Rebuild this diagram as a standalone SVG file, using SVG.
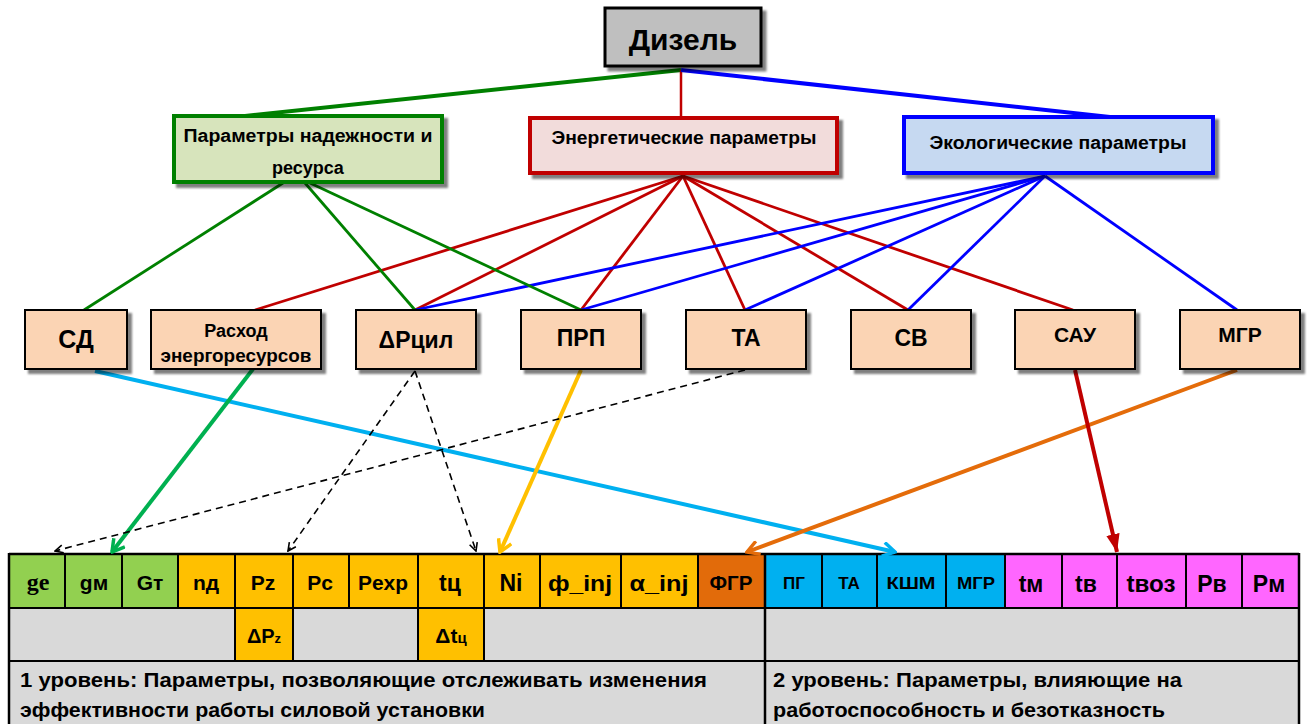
<svg xmlns="http://www.w3.org/2000/svg" width="1312" height="724" viewBox="0 0 1312 724">
<style>
.t{font-family:"Liberation Sans",Arial,sans-serif;font-weight:bold;fill:#000;text-anchor:middle}
.tl{font-family:"Liberation Sans",Arial,sans-serif;font-weight:bold;fill:#000}
.mid{fill:#FBD4B4;stroke:#000;stroke-width:2}
.cl{stroke:#000;stroke-width:2}
.g{stroke:#008000;fill:none}
.r{stroke:#C00000;fill:none}
.b{stroke:#0000FF;fill:none}
.dash{stroke:#000;stroke-width:1.6;stroke-dasharray:7 5;fill:none}
</style>
<defs>
<filter id="sh" x="-10%" y="-10%" width="130%" height="140%">
<feDropShadow dx="4" dy="4" stdDeviation="1.2" flood-color="#000" flood-opacity="0.5"/>
</filter>
<marker id="aG" viewBox="0 0 16 16" refX="14" refY="8" markerWidth="16" markerHeight="16" markerUnits="userSpaceOnUse" orient="auto"><path d="M2,1 L14,8 L2,15" fill="none" stroke="#00B050" stroke-width="3.5"/></marker>
<marker id="aC" viewBox="0 0 16 16" refX="14" refY="8" markerWidth="16" markerHeight="16" markerUnits="userSpaceOnUse" orient="auto"><path d="M2,1 L14,8 L2,15" fill="none" stroke="#00B0F0" stroke-width="3.5"/></marker>
<marker id="aY" viewBox="0 0 16 16" refX="14" refY="8" markerWidth="16" markerHeight="16" markerUnits="userSpaceOnUse" orient="auto"><path d="M2,1 L14,8 L2,15" fill="none" stroke="#FFC000" stroke-width="3.5"/></marker>
<marker id="aO" viewBox="0 0 16 16" refX="14" refY="8" markerWidth="16" markerHeight="16" markerUnits="userSpaceOnUse" orient="auto"><path d="M2,1 L14,8 L2,15" fill="none" stroke="#E46C0A" stroke-width="3.5"/></marker>
<marker id="aK" viewBox="0 0 10 10" refX="9" refY="5" markerWidth="10" markerHeight="10" markerUnits="userSpaceOnUse" orient="auto"><path d="M1,1 L9,5 L1,9" fill="none" stroke="#000" stroke-width="1.6"/></marker>
<marker id="aR" viewBox="0 0 16 12" refX="16" refY="6" markerWidth="18" markerHeight="14" markerUnits="userSpaceOnUse" orient="auto"><path d="M0,0 L16,6 L0,12 Z" fill="#C00000"/></marker>
</defs>

<g id="table">
<rect x="9" y="554" width="1290" height="180" fill="#D9D9D9"/>
<rect x="9" y="554" width="169" height="54" fill="#92D050"/>
<rect x="178" y="554" width="520" height="54" fill="#FFC000"/>
<rect x="698" y="554" width="67" height="54" fill="#E26B0A"/>
<rect x="765" y="554" width="240" height="54" fill="#00B0F0"/>
<rect x="1005" y="554" width="294" height="54" fill="#FF66FF"/>
<rect x="235" y="608" width="58" height="53" fill="#FFC000"/>
<rect x="418" y="608" width="66" height="53" fill="#FFC000"/>
<g class="cl">
<line x1="9" y1="554" x2="1299" y2="554" stroke-width="2.5"/>
<line x1="9" y1="608" x2="1299" y2="608"/>
<line x1="9" y1="661" x2="1299" y2="661"/>
<line x1="9" y1="553" x2="9" y2="724" stroke-width="2.5"/>
<line x1="1299" y1="553" x2="1299" y2="724" stroke-width="2.5"/>
<line x1="765" y1="554" x2="765" y2="724" stroke-width="2.5"/>
<line x1="65" y1="554" x2="65" y2="608"/>
<line x1="122" y1="554" x2="122" y2="608"/>
<line x1="178" y1="554" x2="178" y2="608"/>
<line x1="235" y1="554" x2="235" y2="661"/>
<line x1="293" y1="554" x2="293" y2="661"/>
<line x1="349" y1="554" x2="349" y2="608"/>
<line x1="418" y1="554" x2="418" y2="661"/>
<line x1="484" y1="554" x2="484" y2="661"/>
<line x1="540" y1="554" x2="540" y2="608"/>
<line x1="621" y1="554" x2="621" y2="608"/>
<line x1="698" y1="554" x2="698" y2="608"/>
<line x1="822" y1="554" x2="822" y2="608"/>
<line x1="877" y1="554" x2="877" y2="608"/>
<line x1="946" y1="554" x2="946" y2="608"/>
<line x1="1005" y1="554" x2="1005" y2="608"/>
<line x1="1062" y1="554" x2="1062" y2="608"/>
<line x1="1117" y1="554" x2="1117" y2="608"/>
<line x1="1186" y1="554" x2="1186" y2="608"/>
<line x1="1242" y1="554" x2="1242" y2="608"/>
</g>
<text x="38" y="590" font-family="'Liberation Serif',serif" font-weight="bold" font-size="24" text-anchor="middle">ge</text>
<g class="t" font-size="21">
<text x="94" y="590">gм</text>
<text x="150" y="590">Gт</text>
<text x="206" y="590">nд</text>
<text x="263" y="590">Pz</text>
<text x="320" y="590">Pc</text>
<text x="383" y="590" textLength="50" lengthAdjust="spacingAndGlyphs">Pexp</text>
<text x="450" y="591" font-size="23">tц</text>
<text x="511" y="591" font-size="23">Ni</text>
<text x="580" y="591" font-size="22" textLength="64" lengthAdjust="spacingAndGlyphs">ф_inj</text>
<text x="659" y="591" font-size="22" textLength="59" lengthAdjust="spacingAndGlyphs">α_inj</text>
<text x="731" y="590" textLength="43" lengthAdjust="spacingAndGlyphs">ФГР</text>
</g>
<g class="t" font-size="17">
<text x="794" y="589">ПГ</text>
<text x="849" y="589">ТА</text>
<text x="911" y="589" textLength="49" lengthAdjust="spacingAndGlyphs">КШМ</text>
<text x="976" y="589" textLength="38" lengthAdjust="spacingAndGlyphs">МГР</text>
</g>
<g class="t" font-size="23">
<text x="1031" y="592">tм</text>
<text x="1086" y="592">tв</text>
<text x="1151" y="592" textLength="49" lengthAdjust="spacingAndGlyphs">tвоз</text>
<text x="1212" y="592">Pв</text>
<text x="1269" y="592">Pм</text>
</g>
<text class="t" x="264" y="643" font-size="20">ΔP<tspan font-size="13">z</tspan></text>
<text class="t" x="451" y="643" font-size="21">Δt<tspan font-size="15">ц</tspan></text>
<g class="tl" font-size="20">
<text x="20" y="687" textLength="687" lengthAdjust="spacingAndGlyphs">1 уровень: Параметры, позволяющие отслеживать изменения</text>
<text x="20" y="717" textLength="465" lengthAdjust="spacingAndGlyphs">эффективности работы силовой установки</text>
<text x="773" y="687" textLength="409" lengthAdjust="spacingAndGlyphs">2 уровень: Параметры, влияющие на</text>
<text x="773" y="717" textLength="392" lengthAdjust="spacingAndGlyphs">работоспособность и безотказность</text>
</g>
</g>

<g id="connectors">
<line class="g" x1="681" y1="70" x2="245" y2="116" stroke-width="4"/>
<line class="r" x1="681" y1="70" x2="681" y2="118" stroke-width="2.5"/>
<line class="b" x1="681" y1="70" x2="1110" y2="117" stroke-width="4"/>
<g class="r" stroke-width="2.8">
<line x1="683" y1="176" x2="255" y2="310"/>
<line x1="683" y1="176" x2="415" y2="310"/>
<line x1="683" y1="176" x2="581" y2="310"/>
<line x1="683" y1="176" x2="745" y2="310"/>
<line x1="683" y1="176" x2="908" y2="310"/>
<line x1="683" y1="176" x2="1073" y2="310"/>
</g>
<g class="b" stroke-width="2.8">
<line x1="1045" y1="176" x2="415" y2="310"/>
<line x1="1045" y1="176" x2="581" y2="310"/>
<line x1="1045" y1="176" x2="745" y2="310"/>
<line x1="1045" y1="176" x2="908" y2="310"/>
<line x1="1045" y1="176" x2="1237" y2="310"/>
</g>
<g class="g" stroke-width="2.8">
<line x1="283" y1="183" x2="84" y2="310"/>
<line x1="305" y1="183" x2="415" y2="310"/>
<line x1="310" y1="183" x2="581" y2="310"/>
</g>
<line x1="95" y1="371" x2="895" y2="552" stroke="#00B0F0" stroke-width="4" marker-end="url(#aC)"/>
<line x1="253" y1="369" x2="112" y2="552" stroke="#00B050" stroke-width="4" marker-end="url(#aG)"/>
<line x1="581" y1="370" x2="500" y2="552" stroke="#FFC000" stroke-width="4" marker-end="url(#aY)"/>
<line x1="1237" y1="370" x2="747" y2="552" stroke="#E46C0A" stroke-width="4" marker-end="url(#aO)"/>
<line x1="1075" y1="370" x2="1117" y2="552" stroke="#C00000" stroke-width="4" marker-end="url(#aR)"/>
<line class="dash" x1="415" y1="371" x2="288" y2="551" marker-end="url(#aK)"/>
<line class="dash" x1="415" y1="371" x2="476" y2="551" marker-end="url(#aK)"/>
<line class="dash" x1="745" y1="370" x2="55" y2="551" marker-end="url(#aK)"/>
</g>

<g id="n-diesel">
<rect x="605" y="8" width="156" height="58" fill="#BFBFBF" stroke="#000" stroke-width="3" filter="url(#sh)"/>
<text class="t" x="683" y="50" font-size="30">Дизель</text>
</g>
<g id="n-reliability">
<rect x="174" y="116" width="268" height="66" fill="#D7E4BC" stroke="#008000" stroke-width="4" filter="url(#sh)"/>
<text class="t" x="308" y="142" font-size="18" textLength="249" lengthAdjust="spacingAndGlyphs">Параметры надежности и</text>
<text class="t" x="308" y="174" font-size="18">ресурса</text>
</g>
<g id="n-energy">
<rect x="530" y="118" width="307" height="55" fill="#F2DCDB" stroke="#C00000" stroke-width="4" filter="url(#sh)"/>
<text class="t" x="684" y="144" font-size="18" textLength="265" lengthAdjust="spacingAndGlyphs">Энергетические параметры</text>
</g>
<g id="n-ecology">
<rect x="904" y="117" width="309" height="56" fill="#C6D9F1" stroke="#0000FF" stroke-width="4" filter="url(#sh)"/>
<text class="t" x="1058" y="149" font-size="18" textLength="257" lengthAdjust="spacingAndGlyphs">Экологические параметры</text>
</g>
<g id="n-sd">
<rect class="mid" x="25" y="310" width="102" height="59" filter="url(#sh)"/>
<text class="t" x="76" y="348" font-size="25">СД</text>
</g>
<g id="n-rashod">
<rect class="mid" x="151" y="310" width="170" height="59" filter="url(#sh)"/>
<text class="t" x="236" y="337" font-size="18">Расход</text>
<text class="t" x="236" y="362" font-size="18" textLength="151" lengthAdjust="spacingAndGlyphs">энергоресурсов</text>
</g>
<g id="n-dpcil">
<rect class="mid" x="356" y="310" width="120" height="59" filter="url(#sh)"/>
<text class="t" x="416" y="348" font-size="23">ΔPцил</text>
</g>
<g id="n-prp">
<rect class="mid" x="521" y="310" width="120" height="59" filter="url(#sh)"/>
<text class="t" x="581" y="346" font-size="23">ПРП</text>
</g>
<g id="n-ta">
<rect class="mid" x="686" y="310" width="120" height="59" filter="url(#sh)"/>
<text class="t" x="746" y="346" font-size="23">ТА</text>
</g>
<g id="n-sv">
<rect class="mid" x="851" y="310" width="120" height="59" filter="url(#sh)"/>
<text class="t" x="911" y="346" font-size="23">СВ</text>
</g>
<g id="n-sau">
<rect class="mid" x="1015" y="310" width="120" height="59" filter="url(#sh)"/>
<text class="t" x="1075" y="342" font-size="21">САУ</text>
</g>
<g id="n-mgr">
<rect class="mid" x="1180" y="310" width="120" height="59" filter="url(#sh)"/>
<text class="t" x="1240" y="342" font-size="21">МГР</text>
</g>
</svg>
